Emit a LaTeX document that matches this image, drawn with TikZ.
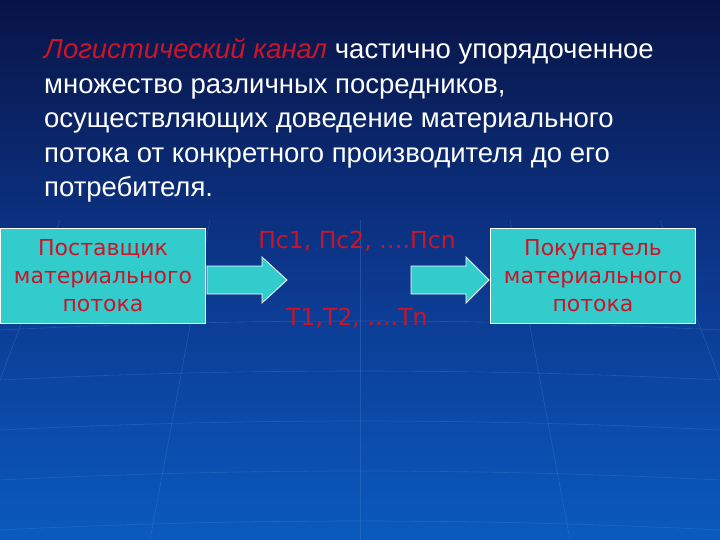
\documentclass[tikz,border=0pt]{standalone}
\usepackage{fontspec}
\setmainfont{Liberation Sans}
\newfontfamily\dv{DejaVu Sans}
\definecolor{bgtop}{RGB}{8,20,70}
\definecolor{bgbot}{RGB}{10,90,190}
\definecolor{teal}{RGB}{51,204,204}
\definecolor{tred}{RGB}{204,20,40}
\definecolor{grid}{RGB}{70,130,210}
\begin{document}
\begin{tikzpicture}[x=1pt,y=-1pt,
  box/.style={draw=white,line width=1pt,fill=teal,minimum width=205pt,minimum height=95pt,text=tred,font=\dv\fontsize{22}{28}\selectfont,align=center,anchor=north west,inner sep=0pt},
  fat/.style={draw=white,fill=teal,line width=0.8pt},
  lab/.style={text=tred,font=\dv\fontsize{23.5}{26}\selectfont}]
\useasboundingbox (0,0) rectangle (720,540);
\shade[top color=bgtop,bottom color=bgbot,middle color={rgb,255:red,12;green,55;blue,140}] (0,0) rectangle (720,540);
\begin{scope}[draw=grid,opacity=0.35,line width=0.6pt]
\foreach \y in {330,380,430,480,530} \draw (0,\y) .. controls (240,\y-12) and (480,\y-12) .. (720,\y);
\foreach \x in {-300,-150,0,150,300} \draw (360+\x,220) .. controls (360+1.2*\x,380) .. (360+1.4*\x,540);
\end{scope}
\node[anchor=north west,align=left,text=white,font=\fontsize{27.5}{34.5}\selectfont,inner sep=0pt] (t) at (44,38)
{{\color{tred}\itshape Логистический канал} частично упорядоченное\\
множество различных посредников,\\
осуществляющих доведение материального\\
потока от конкретного производителя до его\\
потребителя.};
\node[box] (a) at (0,228) {Поставщик\\материального\\потока};
\node[box] (b) at (490,228) {Покупатель\\материального\\потока};
\node[lab] (p) at (357,241) {Пс1, Пс2, ….Псn};
\node[lab] (q) at (357,318) {T1,T2, ….Tn};
\draw[fat] (207,266) -- (262,266) -- (262,257) -- (287,280) -- (262,303) -- (262,294) -- (207,294) -- cycle;
\draw[fat] (411,266) -- (466,266) -- (466,257) -- (489,280) -- (466,303) -- (466,294) -- (411,294) -- cycle;
\end{tikzpicture}
\end{document}
